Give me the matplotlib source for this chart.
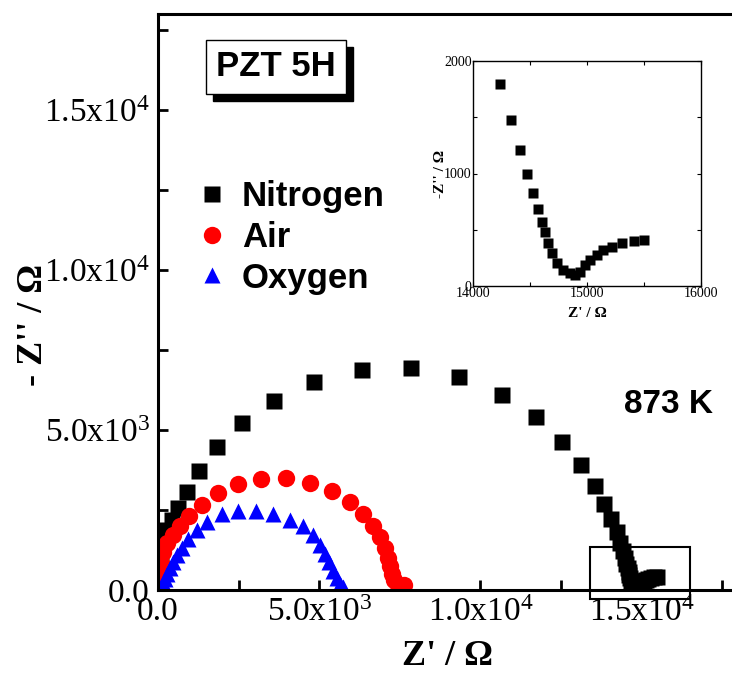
import matplotlib
matplotlib.use('Agg')
import matplotlib.pyplot as plt
from matplotlib.patches import Rectangle
from matplotlib.ticker import MultipleLocator
import matplotlib.transforms as mtrans

plt.rcParams['font.family'] = ['Liberation Serif', 'DejaVu Serif']
plt.rcParams['mathtext.fontset'] = 'custom'
plt.rcParams['mathtext.rm'] = 'Liberation Serif'
plt.rcParams['mathtext.it'] = 'Liberation Serif:italic'
plt.rcParams['mathtext.bf'] = 'Liberation Serif:bold'

# Nitrogen (Z', -Z'') in ohm
n_x = [31, 62, 93, 155, 280, 435, 621, 901, 1273, 1832, 2609, 3602, 4845, 6335, 7857,
       9348, 10683, 11739, 12547, 13137, 13571, 13851, 14050, 14235, 14337, 14416, 14478,
       14528, 14572, 14604, 14630, 14660, 14689, 14733, 14792, 14850, 14894, 14938, 14982,
       15026, 15085, 15144, 15217, 15305, 15408, 15496]
n_y = [219, 625, 1094, 1563, 1875, 2188, 2563, 3063, 3719, 4469, 5219, 5906, 6500, 6875, 6938,
       6656, 6094, 5406, 4625, 3906, 3250, 2688, 2230, 1799, 1473, 1213, 1000,
       828, 683, 571, 482, 379, 290, 201, 142, 112, 98, 127, 186,
       231, 275, 320, 349, 379, 399, 408]

# Air
a_x = [30, 60, 95, 155, 280, 466, 683, 963, 1366, 1863, 2484, 3199, 3975, 4720, 5404,
       5963, 6366, 6677, 6894, 7050, 7143, 7205, 7267, 7329, 7453, 7650]
a_y = [150, 470, 840, 1190, 1470, 1720, 2000, 2310, 2660, 3030, 3310, 3470, 3500, 3340, 3090,
       2750, 2375, 2000, 1656, 1313, 1000, 750, 500, 310, 156, 150]

# Oxygen
o_x = [62, 93, 155, 217, 280, 373, 466, 590, 745, 932, 1211, 1522, 1988, 2484, 3043,
       3571, 4099, 4503, 4814, 5031, 5186, 5310, 5435, 5559, 5652, 5745]
o_y = [40, 100, 220, 350, 500, 690, 880, 1080, 1320, 1600, 1880, 2140, 2370, 2470, 2480,
       2390, 2200, 1990, 1720, 1420, 1130, 860, 600, 380, 200, 80]

tick_vals = [0, 5000, 10000, 15000]
tick_labels = ['0.0', '5.0x10$^3$', '1.0x10$^4$', '1.5x10$^4$']

fig = plt.figure(figsize=(7.32, 6.75), dpi=100)
ax = fig.add_axes([158 / 732, 85 / 675, 580 / 732, 576 / 675])

ax.plot(n_x, n_y, 's', color='black', ms=11.5, mec='none', label='Nitrogen')
ax.plot(a_x, a_y, 'o', color='red', ms=12.5, mec='none', label='Air')
ax.plot(o_x, o_y, '^', color='blue', ms=12, mec='none', label='Oxygen')

ax.set_xlim(0, 18000)
ax.set_ylim(0, 18000)
ax.set_xticks(tick_vals, tick_labels)
ax.set_yticks(tick_vals, tick_labels)
ax.xaxis.set_minor_locator(MultipleLocator(2500))
ax.yaxis.set_minor_locator(MultipleLocator(2500))
ax.tick_params(which='both', direction='in', length=7, width=2, labelsize=24)
ax.tick_params(axis='x', pad=5)
ax.tick_params(axis='y', pad=6)
for s in ['left', 'bottom', 'top']:
    ax.spines[s].set_linewidth(2.2)
ax.spines['right'].set_visible(False)

ax.set_xlabel("Z' / \u03a9", fontsize=26, fontweight='bold', labelpad=9)
ax.set_ylabel("- Z'' / \u03a9", fontsize=26, fontweight='bold')
ax.yaxis.set_label_coords(-0.186, 0.46)

# zoom box
ax.add_patch(Rectangle((13400, -290), 3100, 1640, fill=False, lw=1.5, ec='black', clip_on=False))

leg = ax.legend(loc='upper left', bbox_to_anchor=((181 - 158) / 580, 1 - (163 - 14) / 576),
                frameon=False,
                prop={'family': 'Liberation Sans', 'weight': 'bold', 'size': 25},
                handlelength=0.8, handletextpad=0.45, labelspacing=0.22, borderpad=0)

ax.text((713 - 158) / 580, 1 - (404 - 14) / 576, '873 K',
        transform=ax.transAxes, ha='right', va='center', fontsize=24, fontweight='bold',
        family='Liberation Sans')

# PZT 5H label with shadow box
bx, by = (276 - 158) / 580, 1 - (67 - 14) / 576
shadow = mtrans.offset_copy(ax.transAxes, fig=fig, x=7, y=-7, units='dots')
ax.text(bx, by, 'PZT 5H', transform=shadow, ha='center', va='center', fontsize=25,
        fontweight='bold', family='Liberation Sans', color='black',
        bbox=dict(boxstyle='square,pad=0.3', fc='black', ec='black'))
ax.text(bx, by, 'PZT 5H', transform=ax.transAxes, ha='center', va='center', fontsize=25,
        fontweight='bold', family='Liberation Sans', color='black',
        bbox=dict(boxstyle='square,pad=0.3', fc='white', ec='black', lw=1))

# inset
ins = fig.add_axes([473 / 732, (675 - 286) / 675, 228 / 732, 225 / 675])
ins.plot(n_x, n_y, 's', color='black', ms=7.5, mec='none')
ins.set_xlim(14000, 16000)
ins.set_ylim(0, 2000)
ins.set_xticks([14000, 15000, 16000])
ins.set_yticks([0, 1000, 2000])
ins.xaxis.set_minor_locator(MultipleLocator(500))
ins.yaxis.set_minor_locator(MultipleLocator(500))
ins.tick_params(which='both', direction='in', top=True, right=True, length=3, width=0.8,
                labelsize=10, pad=1)
for s in ins.spines.values():
    s.set_linewidth(1)
ins.set_xlabel("Z' / \u03a9", fontsize=11, fontweight='bold', labelpad=5)
ins.set_ylabel("-Z'' / \u03a9", fontsize=11, fontweight='bold', labelpad=-2)

fig.savefig('out.png', dpi=100)
